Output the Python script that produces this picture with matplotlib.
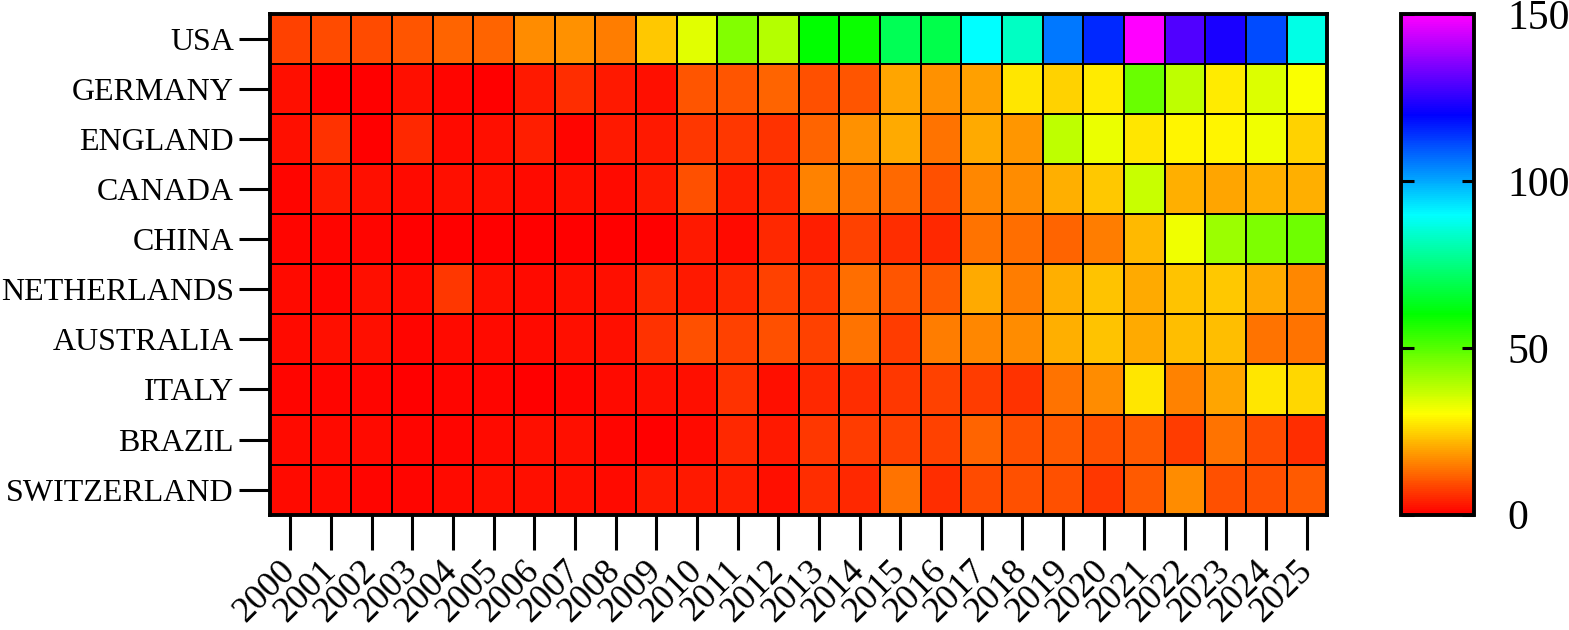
import matplotlib.pyplot as plt
import numpy as np
from matplotlib.colors import LinearSegmentedColormap

countries = ["USA", "GERMANY", "ENGLAND", "CANADA", "CHINA", "NETHERLANDS",
             "AUSTRALIA", "ITALY", "BRAZIL", "SWITZERLAND"]
years = [str(y) for y in range(2000, 2026)]

# values, one list per country (2000 .. 2025)
usa = [8, 9, 9, 10.5, 12, 12, 16.5, 17, 15, 24, 33.5, 45, 39, 60, 59, 70, 69, 90, 83, 106, 115, 150, 129, 123, 111, 87]
germany = [1.8, 0.5, 0.5, 2.3, 0.6, 0.3, 3.5, 5.3, 3.5, 2.3, 10.5, 10, 11.8, 9.4, 10.5, 19.4, 17, 18.8, 27, 25, 28, 48, 37.6, 28, 34.5, 31]
england = [1.8, 6, 0.5, 4.7, 1.2, 2.3, 4, 0.6, 3, 3.5, 7, 7, 6, 11.8, 17, 20, 14, 20, 17.6, 37.6, 32.4, 27, 29, 29, 31.8, 24.7]
canada = [0.6, 3, 1.8, 1.2, 2.3, 2.3, 1.2, 1.8, 1.2, 3, 9.4, 4, 4.7, 15.3, 14, 12.4, 9.4, 15.9, 16.5, 21, 23.5, 36.5, 20.6, 19.4, 20.6, 21]
china = [0.6, 0.6, 0.6, 0.3, 0.3, 0.3, 0.3, 0.3, 0.3, 0.2, 3.5, 1.2, 4.7, 4, 8.2, 5.3, 4.7, 14, 13, 11.8, 14.7, 21.8, 31.8, 41.8, 45.3, 47]
netherlands = [1.2, 0.6, 1.8, 1.2, 6.5, 2.3, 1.2, 1.8, 2.3, 4.7, 3, 4.7, 8.2, 6.5, 13, 10, 10.6, 20, 14.7, 20.6, 23, 20, 23, 23.5, 20, 15.9]
australia = [1.2, 2.3, 1.8, 0.6, 1.2, 1.2, 1.2, 1.8, 2.3, 6, 9.4, 8.2, 9.4, 8.2, 14, 7.6, 14.7, 15.9, 16.5, 20.6, 23, 20, 22.4, 22.4, 13.5, 13.5]
italy = [0.6, 0.6, 0.6, 0.3, 0.6, 0.6, 0.3, 0.6, 1.2, 2.3, 1.8, 6, 2.3, 4.7, 5.3, 6.5, 8.2, 7.6, 6, 14, 16.5, 27, 15.3, 19.4, 27, 25.3]
brazil = [1.2, 1.2, 1.2, 0.6, 0.6, 1.2, 1.8, 1.8, 0.6, 0.3, 1.2, 4.7, 3, 7, 7.6, 8.2, 8.2, 11.8, 9.4, 10.6, 9.4, 10.6, 7.6, 14, 8.8, 5.3]
switzerland = [1.2, 1.2, 0.6, 0.6, 1.2, 2.3, 1.8, 2.3, 1.2, 3, 3, 4, 2.3, 5.3, 4.7, 13.5, 5.3, 8.8, 9.4, 9.4, 6.5, 10.6, 16.5, 9.4, 9.4, 10.6]

data = np.array([usa, germany, england, canada, china, netherlands,
                 australia, italy, brazil, switzerland])

# hue ramp red -> yellow -> green -> cyan -> blue -> magenta
cmap = LinearSegmentedColormap.from_list(
    "hue", ["#ff0000", "#ffff00", "#00ff00", "#00ffff", "#0000ff", "#ff00ff"])

plt.rcParams['font.family'] = ['Liberation Serif', 'DejaVu Serif']

fig = plt.figure(figsize=(15.69, 6.30), dpi=100)
ax = fig.add_axes([0.172, 0.183, 0.674, 0.795])
cax = fig.add_axes([0.893, 0.183, 0.0465, 0.794])

mesh = ax.pcolormesh(data, cmap=cmap, vmin=0, vmax=150,
                     edgecolors="black", linewidth=1.2)
ax.set_xlim(0, len(years))
ax.set_ylim(len(countries), 0)
ax.set_xticks(np.arange(len(years)) + 0.5)
ax.set_xticklabels(years, rotation=45, ha="right", va="center",
                   rotation_mode="anchor", fontsize=26)
ax.set_yticks(np.arange(len(countries)) + 0.5)
ax.set_yticklabels(countries, fontsize=23)
ax.tick_params(axis="x", length=25, width=2.2, pad=12)
ax.tick_params(axis="y", length=22, width=2.2, pad=4)
for s in ax.spines.values():
    s.set_linewidth(2.8)

cb = fig.colorbar(mesh, cax=cax)
cb.set_ticks([0, 50, 100, 150])
cb.ax.tick_params(labelsize=30, direction="in", length=9, width=2.2,
                  left=True, right=True, pad=24)
cb.outline.set_linewidth(2.8)

fig.savefig("out.png", dpi=100)
